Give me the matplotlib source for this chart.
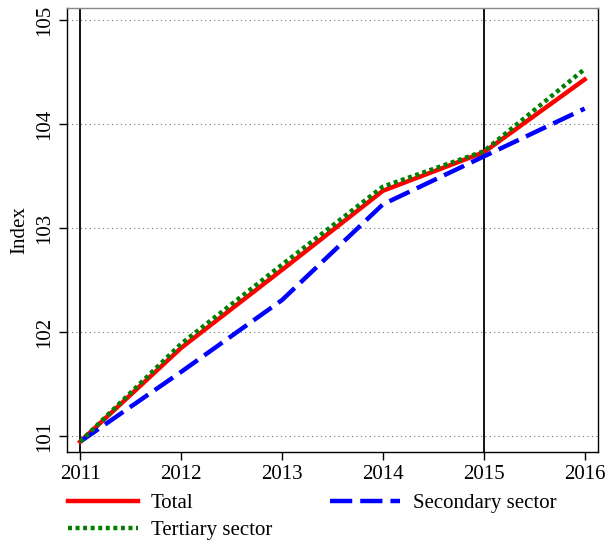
#!/usr/bin/env python3
import matplotlib
matplotlib.use("Agg")
import matplotlib.pyplot as plt

# values
years = [2011, 2012, 2013, 2014, 2015, 2016]
total = [100.95, 101.85, 102.60, 103.36, 103.73, 104.43]
secondary = [100.95, 101.62, 102.31, 103.23, 103.69, 104.15]
tertiary = [100.95, 101.89, 102.65, 103.40, 103.74, 104.53]
y_ticks = [101, 102, 103, 104, 105]
marked_years = [2011, 2015]

plt.rcParams["font.family"] = ["Liberation Serif", "DejaVu Serif"]
plt.rcParams["font.size"] = 15

fig = plt.figure(figsize=(6.15, 5.44), dpi=100)
ax = fig.add_axes([0.109, 0.169, 0.863, 0.816])

# horizontal dotted grid
for yv in y_ticks:
    ax.axhline(yv, color="#777777", linestyle=(0, (1, 3)), linewidth=0.8, zorder=1)

# vertical reference lines
for xv in marked_years:
    ax.axvline(xv, color="black", linewidth=1.3, zorder=2)

l_total, = ax.plot(years, total, color="red", linewidth=3.2, label="Total", zorder=3)
l_sec, = ax.plot(years, secondary, color="blue", linewidth=3.2,
                 linestyle=(0, (5, 1.8)), label="Secondary sector", zorder=3)
l_ter, = ax.plot(years, tertiary, color="green", linewidth=3.2,
                 linestyle=(0, (0.9, 0.8)), label="Tertiary sector", zorder=4)

ax.set_xlim(2010.87, 2016.13)
ax.set_ylim(100.85, 105.115)
ax.set_xticks(years)
ax.set_yticks(y_ticks)
ax.set_yticklabels([str(v) for v in y_ticks], rotation=90, va="center")
ax.tick_params(direction="out", length=6, width=1)
ax.set_ylabel("Index", labelpad=4)

for s in ax.spines.values():
    s.set_linewidth(1.0)
ax.spines["top"].set_color("#888888")

fig.legend(handles=[l_total, l_ter, l_sec], ncol=2, frameon=False,
           loc="upper left", bbox_to_anchor=(0.094, 0.112),
           handlelength=3.35, handletextpad=0.6, columnspacing=2.8,
           borderpad=0, labelspacing=0.35)

fig.savefig("out.png", dpi=100)
